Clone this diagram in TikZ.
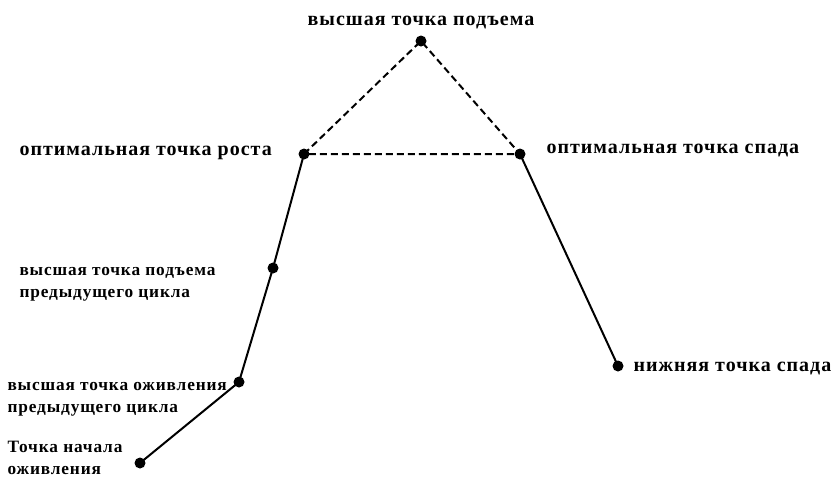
\documentclass[tikz,border=0pt]{standalone}
\usepackage{fontspec}
\setmainfont{Liberation Serif}
\newfontfamily\spaced[LetterSpace=5]{Liberation Serif}
\begin{document}
\begin{tikzpicture}[x=1pt,y=-1pt,
  pt/.style={circle,fill=black,inner sep=0pt,minimum size=11pt},
  big/.style={font=\spaced\bfseries\fontsize{20}{22}\selectfont},
  small/.style={font=\spaced\bfseries\fontsize{17.3}{22}\selectfont,align=left},
  solidline/.style={line width=2pt},
  dashline/.style={line width=2pt,dash pattern=on 7pt off 4pt}]
\useasboundingbox (0,0) rectangle (837,480);
\node[pt] (top) at (421,41) {};
\node[pt] (or) at (304,154) {};
\node[pt] (os) at (520,154) {};
\node[pt] (vp) at (273,268) {};
\node[pt] (op) at (239,382) {};
\node[pt] (st) at (140,463) {};
\node[pt] (nz) at (618,366) {};
\draw[dashline] (or.center) -- (top.center) -- (os.center) -- (or.center);
\draw[solidline] (st.center) -- (op.center) -- (vp.center) -- (or.center);
\draw[solidline] (os.center) -- (nz.center);
\node[big] (ltop) at (421,23) {высшая точка подъема};
\node[big,anchor=west] (lor) at (16,153) {оптимальная точка роста};
\node[big,anchor=west] (los) at (543,151) {оптимальная точка спада};
\node[big,anchor=west] (lnz) at (630,369) {нижняя точка спада};
\node[small,anchor=west] (lvp) at (16,284) {высшая точка подъема\\предыдущего цикла};
\node[small,anchor=west] (lop) at (4,399) {высшая точка оживления\\предыдущего цикла};
\node[small,anchor=west] (lst) at (4,458) {Точка начала\\оживления};
\end{tikzpicture}
\end{document}
